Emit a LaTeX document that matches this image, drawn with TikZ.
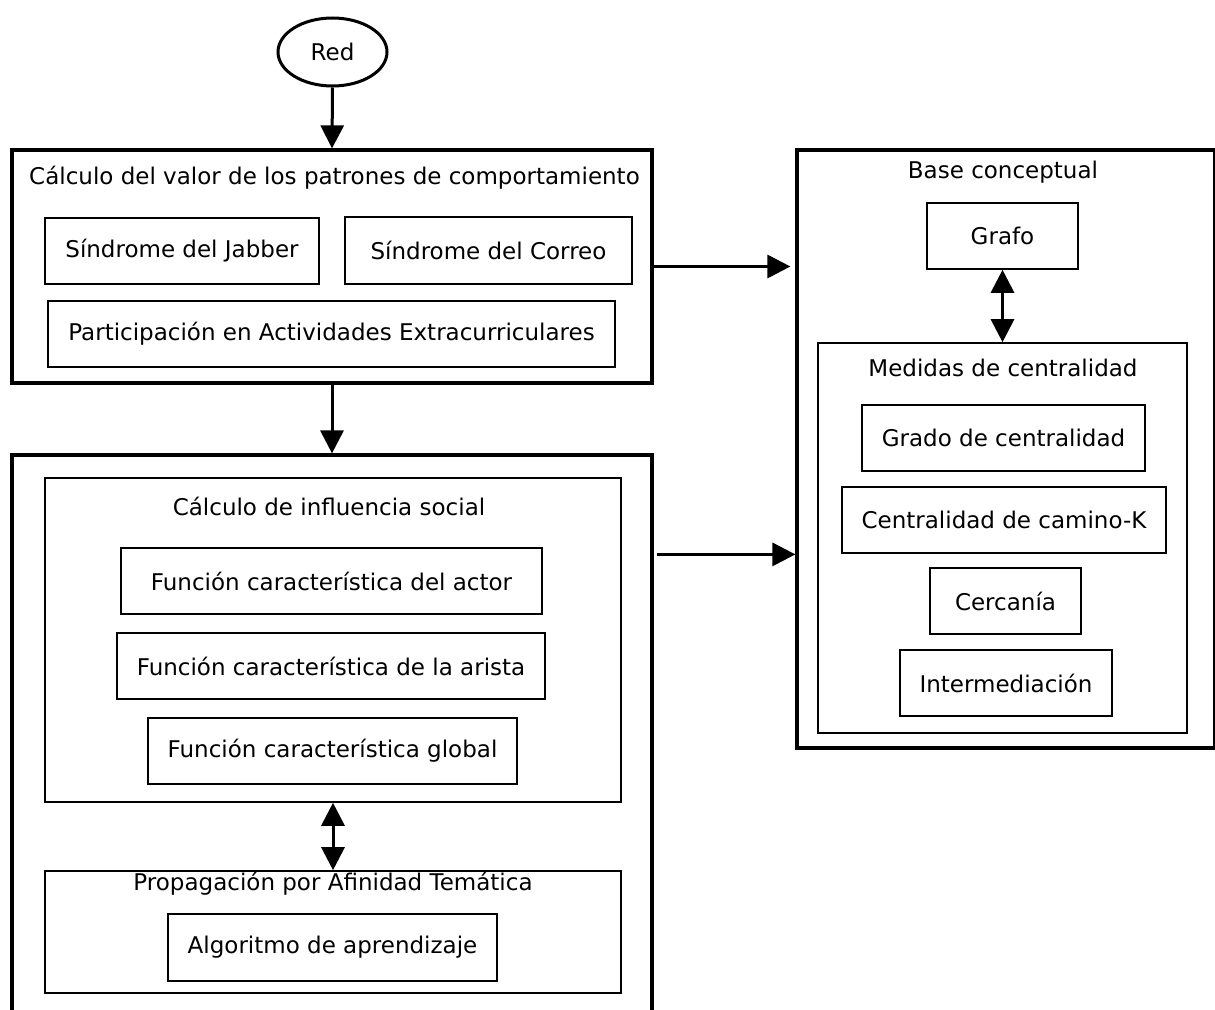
\documentclass[tikz,border=0pt]{standalone}
\usepackage{fontspec}
\setmainfont{DejaVu Sans}
\usetikzlibrary{arrows.meta,shapes.geometric}
\begin{document}
\begin{tikzpicture}[x=1pt,y=-1pt,
  outerbox/.style={draw,line width=3.2pt,rectangle,inner sep=0pt},
  innerbox/.style={draw,line width=1.6pt,rectangle,inner sep=0pt,font=\fontsize{23}{27}\selectfont},
  title/.style={inner sep=0pt,font=\fontsize{23}{27}\selectfont},
  arr/.style={line width=3pt,-{Triangle[length=23pt,width=23pt]}},
  darr/.style={line width=3pt,{Triangle[length=23pt,width=23pt]}-{Triangle[length=23pt,width=23pt]}}]
\useasboundingbox (0,0) rectangle (1215,1009);
\clip (0,0) rectangle (1215,1009);

% input network
\node[draw,ellipse,line width=3pt,minimum width=109pt,minimum height=68pt,inner sep=0pt,
      font=\fontsize{23}{27}\selectfont] (red) at (332.5,52) {Red};

% behaviour patterns
\node[outerbox,minimum width=640pt,minimum height=233pt] (calc) at (332,266.5) {};
\node[title] (calct) at (334.5,178) {Cálculo del valor de los patrones de comportamiento};
\node[innerbox,minimum width=274pt,minimum height=66pt] (jabber) at (182,251) {Síndrome del Jabber};
\node[innerbox,minimum width=287pt,minimum height=67pt] (correo) at (488.5,250.5) {Síndrome del Correo};
\node[innerbox,minimum width=567pt,minimum height=66pt] (extra) at (331.5,334) {Participación en Actividades Extracurriculares};

% social influence
\node[outerbox,minimum width=640pt,minimum height=580pt] (infl) at (332,745) {};
\node[innerbox,minimum width=576pt,minimum height=324pt] (social) at (333,640) {};
\node[title] (socialt) at (329,506) {Cálculo de influencia social};
\node[innerbox,minimum width=421pt,minimum height=66pt] (actor) at (331.5,581) {Función característica del actor};
\node[innerbox,minimum width=428pt,minimum height=66pt] (arista) at (331,666) {Función característica de la arista};
\node[innerbox,minimum width=369pt,minimum height=66pt] (global) at (332.5,751) {Función característica global};
\node[innerbox,minimum width=576pt,minimum height=122pt] (propag) at (333,932) {};
\node[title] (propagt) at (333,884) {Propagación por Afinidad Temática};
\node[innerbox,minimum width=329pt,minimum height=67pt] (algo) at (332.5,947.5) {Algoritmo de aprendizaje};

% conceptual base
\node[outerbox,minimum width=418pt,minimum height=598pt] (base) at (1006,449) {};
\node[title] (baset) at (1003,172) {Base conceptual};
\node[innerbox,minimum width=151pt,minimum height=66pt] (grafo) at (1002.5,236) {Grafo};
\node[innerbox,minimum width=369pt,minimum height=390pt] (medidas) at (1002.5,538) {};
\node[title] (medidast) at (1003,368) {Medidas de centralidad};
\node[innerbox,minimum width=283pt,minimum height=66pt] (grado) at (1003.5,438) {Grado de centralidad};
\node[innerbox,minimum width=324pt,minimum height=66pt] (camino) at (1004,520) {Centralidad de camino-K};
\node[innerbox,minimum width=151pt,minimum height=66pt] (cerca) at (1005.5,601) {Cercanía};
\node[innerbox,minimum width=212pt,minimum height=66pt] (inter) at (1006,683) {Intermediación};

% connectors
\draw[arr] (red.south) -- (calc.north);
\draw[arr] (calc.south) -- (infl.north);
\draw[arr] (calc.east) -- ([xshift=-5pt]base.west |- calc.east);
\draw[arr] ([shift={(3,101)}]infl.north east) coordinate (p) -- (p -| base.west);
\draw[darr] (grafo.south) -- (medidas.north);
\draw[darr] (social.south) -- (propag.north);
\end{tikzpicture}
\end{document}
